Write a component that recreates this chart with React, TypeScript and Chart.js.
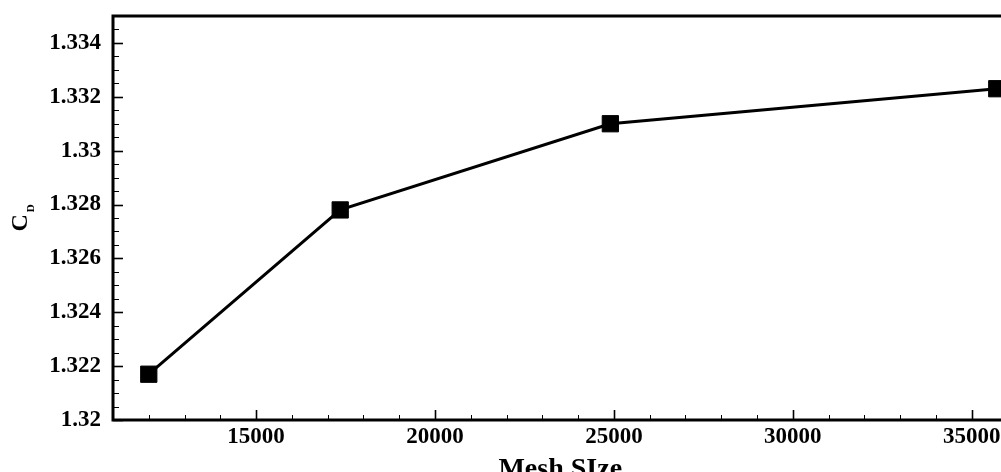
import React, { useEffect, useRef } from "react";
import { Chart, registerables } from "chart.js";

Chart.register(...registerables);

// Drag coefficient vs. mesh size (grid independence study)
const meshSizes = [12000, 17350, 24900, 35700];
const dragCoefficients = [1.3217, 1.3278, 1.331, 1.3323];

const xTickValues = [15000, 20000, 25000, 30000, 35000];
const yTickValues = [1.32, 1.322, 1.324, 1.326, 1.328, 1.33, 1.332, 1.334];
const xRange = [11000, 36000];
const yRange = [1.32, 1.335];
const xMinorStep = 1000;
const yMinorStep = 0.0005;

const xTitle = "Mesh SIze";
const yTitleMain = "C";
const yTitleSub = "D";

const SERIF = "'Liberation Serif', 'Times New Roman', serif";
const CANVAS_W = 1020;
const CANVAS_H = 490;

// Inward major/minor ticks, the heavy frame and the axis titles
const frameTicksPlugin = {
  id: "frameTicks",
  afterDraw(chart: any) {
    const { ctx, chartArea: a, scales } = chart;
    const xs = scales.x;
    const ys = scales.y;
    ctx.save();
    ctx.strokeStyle = "#000";
    ctx.lineCap = "butt";

    // x ticks along the bottom edge
    const xCount = Math.round((xRange[1] - xRange[0]) / xMinorStep);
    for (let i = 0; i <= xCount; i++) {
      const v = xRange[0] + i * xMinorStep;
      const major = xTickValues.includes(v);
      const px = Math.round(xs.getPixelForValue(v)) + 0.5;
      ctx.lineWidth = major ? 1.6 : 1;
      ctx.beginPath();
      ctx.moveTo(px, a.bottom);
      ctx.lineTo(px, a.bottom - (major ? 10 : 5));
      ctx.stroke();
    }

    // y ticks along the left edge
    const yCount = Math.round((yRange[1] - yRange[0]) / yMinorStep);
    for (let i = 0; i <= yCount; i++) {
      const v = yRange[0] + i * yMinorStep;
      const major = i % 4 === 0;
      const py = Math.round(ys.getPixelForValue(v)) + 0.5;
      ctx.lineWidth = major ? 1.6 : 1;
      ctx.beginPath();
      ctx.moveTo(a.left, py);
      ctx.lineTo(a.left + (major ? 10 : 6), py);
      ctx.stroke();
    }

    // frame
    ctx.lineWidth = 3;
    ctx.strokeRect(a.left, a.top, a.right - a.left, a.bottom - a.top);

    // x axis title
    ctx.fillStyle = "#000";
    ctx.font = `bold 28px ${SERIF}`;
    ctx.textAlign = "center";
    ctx.textBaseline = "alphabetic";
    ctx.fillText(xTitle, (a.left + a.right) / 2, 477);

    // y axis title, rotated, with subscript
    ctx.translate(27, (a.top + a.bottom) / 2);
    ctx.rotate(-Math.PI / 2);
    ctx.textAlign = "left";
    ctx.font = `bold 24px ${SERIF}`;
    ctx.fillText(yTitleMain, -13.5, 0);
    const cw = ctx.measureText(yTitleMain).width;
    ctx.font = `bold 11px ${SERIF}`;
    ctx.fillText(yTitleSub, -13.5 + cw + 2, 7);
    ctx.restore();
  },
};

export default function App() {
  const canvasRef = useRef<HTMLCanvasElement | null>(null);

  useEffect(() => {
    const canvas = canvasRef.current;
    if (!canvas) return;
    const tickFont = { family: SERIF, size: 23, weight: "bold" as const };

    const chart = new Chart(canvas, {
      type: "line",
      data: {
        datasets: [
          {
            data: meshSizes.map((x, i) => ({ x, y: dragCoefficients[i] })),
            borderColor: "#000",
            backgroundColor: "#000",
            borderWidth: 3,
            pointStyle: "rect",
            pointRadius: 11.5,
            pointBorderWidth: 1,
            pointBorderColor: "#000",
            pointBackgroundColor: "#000",
            tension: 0,
            clip: false as any,
          },
        ],
      },
      options: {
        responsive: false,
        animation: false,
        devicePixelRatio: 1,
        layout: { padding: { left: 0, top: 16, right: CANVAS_W - 1009, bottom: 0 } },
        plugins: { legend: { display: false }, tooltip: { enabled: false } },
        scales: {
          x: {
            type: "linear",
            min: xRange[0],
            max: xRange[1],
            grid: { display: false, drawTicks: false },
            border: { display: false },
            afterBuildTicks: (scale: any) => {
              scale.ticks = xTickValues.map((value) => ({ value }));
            },
            afterFit: (scale: any) => {
              scale.height = CANVAS_H - 420;
              scale.paddingLeft = 0;
              scale.paddingRight = 0;
            },
            ticks: {
              color: "#000",
              font: tickFont,
              padding: 3,
              maxRotation: 0,
              autoSkip: false,
              callback: (v: any) => String(v),
            },
          },
          y: {
            type: "linear",
            min: yRange[0],
            max: yRange[1],
            grid: { display: false, drawTicks: false },
            border: { display: false },
            afterBuildTicks: (scale: any) => {
              scale.ticks = yTickValues.map((value) => ({ value }));
            },
            afterFit: (scale: any) => {
              scale.width = 113;
              scale.paddingTop = 0;
              scale.paddingBottom = 0;
            },
            ticks: {
              color: "#000",
              font: tickFont,
              padding: 12,
              autoSkip: false,
              callback: (v: any) => String(v),
            },
          },
        },
      },
      plugins: [frameTicksPlugin],
    });

    return () => chart.destroy();
  }, []);

  return (
    <div
      style={{
        position: "fixed",
        left: 0,
        top: 0,
        width: 1001,
        height: 472,
        overflow: "hidden",
        background: "#fff",
      }}
    >
      <canvas
        ref={canvasRef}
        width={CANVAS_W}
        height={CANVAS_H}
        style={{ display: "block", width: CANVAS_W, height: CANVAS_H }}
      />
    </div>
  );
}
